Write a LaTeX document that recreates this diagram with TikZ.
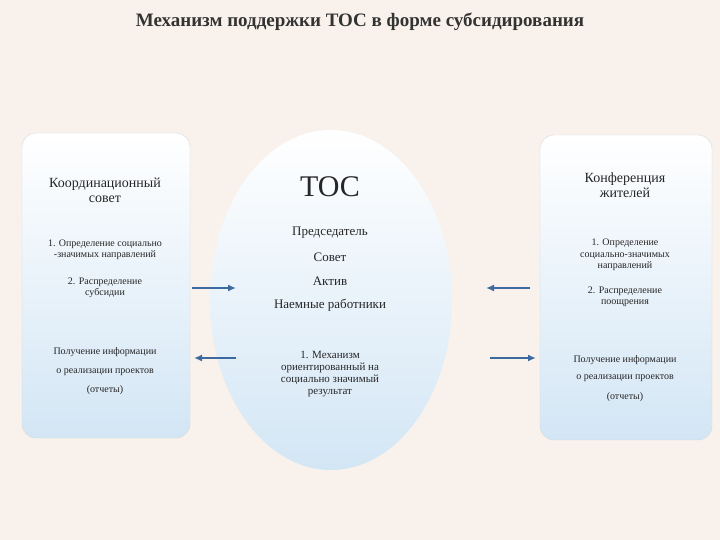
\documentclass[tikz,border=0pt]{standalone}
\usepackage{fontspec}
\setmainfont{Liberation Serif}
\usetikzlibrary{arrows.meta}
\definecolor{arrc}{HTML}{3D6A9E}
\definecolor{pbl}{HTML}{D3E6F5}
\begin{document}
\begin{tikzpicture}[x=1pt,y=-1pt,
  panel/.style={draw=black!15,top color=white,bottom color=pbl},
  arr/.style={-{Latex[length=8pt,width=7pt]},line width=1.6pt,draw=arrc},
  small/.style={align=center,font=\fontsize{10}{11.5}\selectfont,text=black!85},
  mid/.style={align=center,font=\fontsize{14}{15}\selectfont,text=black!85}]
\fill[brown!10!white] (0,0) rectangle (720,540);
\useasboundingbox (0,0) rectangle (720,540);
\node[font=\bfseries\fontsize{19}{21}\selectfont,text=black!80] (title) at (360,22) {Механизм поддержки ТОС в форме субсидирования};
\path[panel,rounded corners=14pt] (22,133) rectangle (190,438);
\path[panel,rounded corners=14pt] (540,135) rectangle (712,440);
\shade[top color=white,bottom color=pbl] (331,300) ellipse [x radius=121, y radius=170];
\node[mid] (l1) at (105,190) {Координационный\\совет};
\node[small] (l2) at (105,250) {1. Определение социально\\-значимых направлений};
\node[small] (l3) at (105,288) {2. Распределение\\субсидии};
\node[small] (l4) at (105,352) {Получение информации};
\node[small] (l5) at (105,372) {о реализации проектов};
\node[small] (l6) at (105,390) {(отчеты)};
\node[font=\fontsize{30}{32}\selectfont,text=black!85] (t0) at (330,187) {ТОС};
\node[mid,font=\fontsize{13}{14}\selectfont] (t1) at (330,233) {Председатель};
\node[mid,font=\fontsize{13}{14}\selectfont] (t2) at (330,257) {Совет};
\node[mid,font=\fontsize{13}{14}\selectfont] (t3) at (330,281) {Актив};
\node[mid,font=\fontsize{13}{14}\selectfont] (t4) at (330,305) {Наемные работники};
\node[align=center,font=\fontsize{11}{12}\selectfont,text=black!85] (t5) at (330,374) {1. Механизм\\ориентированный на\\социально значимый\\результат};
\node[mid] (r1) at (625,185) {Конференция\\жителей};
\node[small] (r2) at (625,255) {1. Определение\\социально-значимых\\направлений};
\node[small] (r3) at (625,297) {2. Распределение\\поощрения};
\node[small] (r4) at (625,360) {Получение информации};
\node[small] (r5) at (625,378) {о реализации проектов};
\node[small] (r6) at (625,397) {(отчеты)};
\coordinate (a1) at (192,288); \coordinate (a2) at (236,288);
\coordinate (b1) at (236,358); \coordinate (b2) at (194,358);
\coordinate (c1) at (530,288); \coordinate (c2) at (486,288);
\coordinate (d1) at (490,358); \coordinate (d2) at (536,358);
\draw[arr] (a1) -- (a2);
\draw[arr] (b1) -- (b2);
\draw[arr] (c1) -- (c2);
\draw[arr] (d1) -- (d2);
\end{tikzpicture}
\end{document}
